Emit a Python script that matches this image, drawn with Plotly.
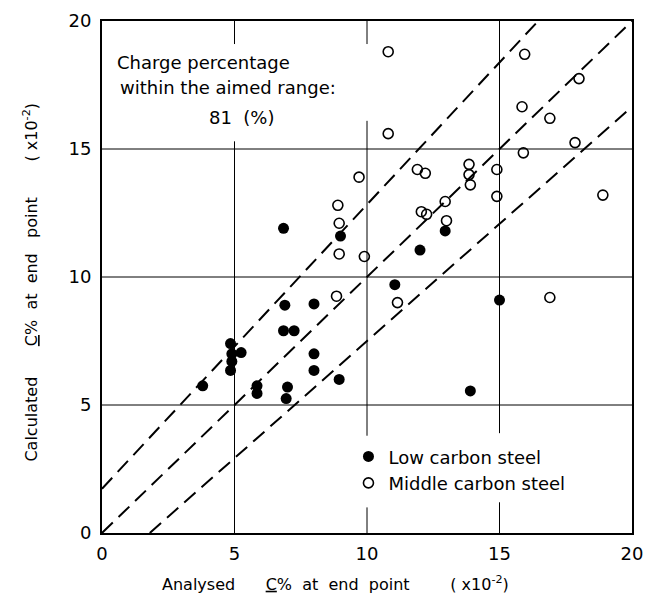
import plotly.graph_objects as go

# ---- data (units: x10^-2 %C) ----
low_x = [6.85, 9.0, 12.95, 12.0, 11.05, 15.0, 6.9, 8.0, 6.85, 7.25, 4.85, 4.9, 5.25, 4.9, 4.85,
         8.0, 8.0, 8.95, 3.8, 5.85, 5.85, 7.0, 6.95, 13.9]
low_y = [11.9, 11.6, 11.8, 11.05, 9.7, 9.1, 8.9, 8.95, 7.9, 7.9, 7.4, 7.0, 7.05, 6.7, 6.35,
         7.0, 6.35, 6.0, 5.75, 5.75, 5.45, 5.7, 5.25, 5.55]
mid_x = [10.8, 15.95, 18.0, 15.85, 16.9, 10.8, 17.85, 15.9, 11.9, 12.2, 13.85, 13.85, 13.9, 14.9,
         14.9, 12.95, 12.05, 12.25, 13.0, 18.9, 9.7, 8.9, 8.95, 8.95, 9.9, 8.85, 11.15, 16.9]
mid_y = [18.8, 18.7, 17.75, 16.65, 16.2, 15.6, 15.25, 14.85, 14.2, 14.05, 14.4, 14.0, 13.6, 14.2,
         13.15, 12.95, 12.55, 12.45, 12.2, 13.2, 13.9, 12.8, 12.1, 10.9, 10.8, 9.25, 9.0, 9.2]

# aimed-range boundary lines: (slope, intercept)
range_lines = [(1.11, 1.73), (1.0, 0.0), (0.915, -1.65)]
ticks = [0, 5, 10, 15, 20]
AX_MIN, AX_MAX = 0, 20

FONT = "DejaVu Sans"
fig = go.Figure()

for m, b in range_lines:
    x0 = max(AX_MIN, (AX_MIN - b) / m)
    x1 = min(AX_MAX, (AX_MAX - b) / m)
    fig.add_trace(go.Scatter(x=[x0, x1], y=[m * x0 + b, m * x1 + b], mode="lines",
                             line=dict(color="black", width=2, dash="15px,8px"),
                             showlegend=False, hoverinfo="skip"))

fig.add_trace(go.Scatter(x=low_x, y=low_y, mode="markers", name="Low carbon steel",
                         marker=dict(symbol="circle", size=11, color="black")))
fig.add_trace(go.Scatter(x=mid_x, y=mid_y, mode="markers", name="Middle carbon steel",
                         marker=dict(symbol="circle-open", size=10, color="black",
                                     line=dict(width=1.6, color="black"))))

# grid segments (with gaps around the text blocks, as in the original)
grid_v = {5: [(0, 15.3), (19.1, 20)], 10: [(0, 1.0), (3.8, 16.1), (19.1, 20)],
          15: [(0, 1.2), (3.9, 20)]}
shapes = []
for xv, segs in grid_v.items():
    for a, b in segs:
        shapes.append(dict(type="line", x0=xv, x1=xv, y0=a, y1=b, xref="x", yref="y",
                           line=dict(color="black", width=1), layer="below"))
for yv in [5, 10, 15]:
    shapes.append(dict(type="line", x0=0, x1=20, y0=yv, y1=yv, xref="x", yref="y",
                       line=dict(color="black", width=1), layer="below"))

nb = "\u00a0"
x_title = ("Analysed" + nb * 6 + "<u>C</u>%" + nb * 2 + "at" + nb * 2 + "end" + nb * 2 + "point"
           + nb * 8 + "(" + nb + "x10<sup>-2</sup>)")
y_title = ("Calculated" + nb * 6 + "<u>C</u>%" + nb * 2 + "at" + nb * 2 + "end" + nb * 3 + "point"
           + nb * 7 + "(" + nb + "x10<sup>-2</sup>)")
annotations = [
    dict(x=0.5, y=18.36, xref="x", yref="y", text="Charge percentage", showarrow=False,
         xanchor="left", yanchor="middle", font=dict(family=FONT, size=18, color="black")),
    dict(x=0.6, y=17.4, xref="x", yref="y", text="within the aimed range:", showarrow=False,
         xanchor="left", yanchor="middle", font=dict(family=FONT, size=18, color="black")),
    dict(x=5.3, y=16.25, xref="x", yref="y", text="81" + nb * 2 + "(%)", showarrow=False,
         xanchor="center", yanchor="middle", font=dict(family=FONT, size=18, color="black")),
    dict(x=0.4415, y=-0.098, xref="paper", yref="paper", text=x_title,
         showarrow=False, xanchor="center", yanchor="middle",
         font=dict(family=FONT, size=16, color="black")),
    dict(x=-0.135, y=0.49, xref="paper", yref="paper", textangle=-90, text=y_title,
         showarrow=False, xanchor="center", yanchor="middle",
         font=dict(family=FONT, size=16, color="black")),
]

axis_common = dict(range=[AX_MIN, AX_MAX], tickvals=ticks, showgrid=False, zeroline=False,
                   showline=True, mirror=True, linecolor="black", linewidth=2,
                   ticks="outside", tickcolor="rgba(0,0,0,0)",
                   tickfont=dict(family=FONT, size=18, color="black"))

fig.update_layout(
    width=663, height=601,
    margin=dict(l=102, r=31, t=10, b=68),
    paper_bgcolor="white", plot_bgcolor="white",
    xaxis=dict(**axis_common, ticklen=3),
    yaxis=dict(**axis_common, ticklen=5),
    shapes=shapes, annotations=annotations,
    legend=dict(x=0.465, y=0.185, xanchor="left", yanchor="top", bgcolor="rgba(0,0,0,0)",
                font=dict(family=FONT, size=18, color="black")),
    font=dict(family=FONT, color="black"),
)

fig.write_html("out.html")
